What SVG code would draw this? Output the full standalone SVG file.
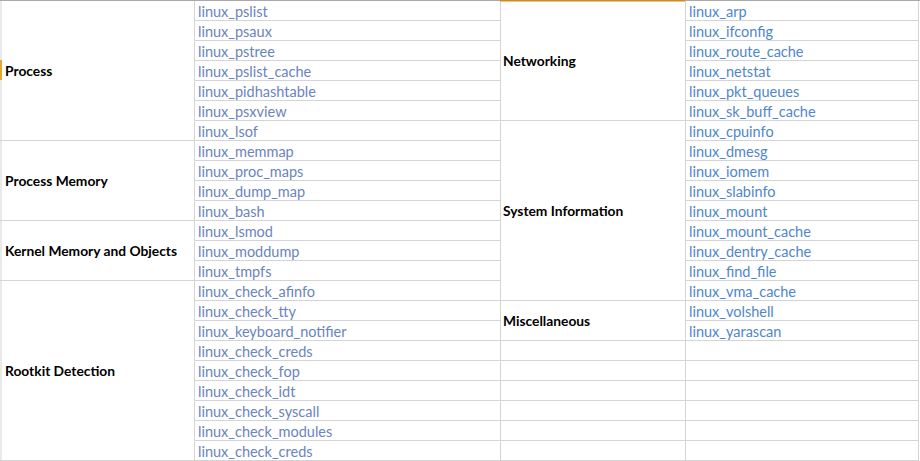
<svg xmlns="http://www.w3.org/2000/svg" width="920" height="461" viewBox="0 0 920 461">
<style>
.g{stroke:#d4d4d4;stroke-width:1;fill:none}
.h{font-family:Lato,"Liberation Sans",sans-serif;font-size:13.8px;font-weight:bold;fill:#000}
.a{font-family:Lato,"Liberation Sans",sans-serif;font-size:14.5px;fill:#6a84c0}
.b{font-family:Lato,"Liberation Sans",sans-serif;font-size:14.5px;fill:#4f86cc}
</style>
<rect width="920" height="461" fill="#fff"/>
<g id="grid">
<path class="g" d="M194.5 0V460.5M500.5 0V460.5M685.5 0V460.5M918.5 0V460.5M1 0V461"/>
<path class="g" d="M0 140.5H194M0 220.5H194M0 280.5H194M0 460.5H919"/>
<path class="g" d="M194 20.5H500M194 40.5H500M194 60.5H500M194 80.5H500M194 100.5H500M194 120.5H500M194 140.5H500M194 160.5H500M194 180.5H500M194 200.5H500M194 220.5H500M194 240.5H500M194 260.5H500M194 280.5H500M194 300.5H500M194 320.5H500M194 340.5H500M194 360.5H500M194 380.5H500M194 400.5H500M194 420.5H500M194 440.5H500"/>
<path class="g" d="M685 20.5H919M685 40.5H919M685 60.5H919M685 80.5H919M685 100.5H919M685 120.5H919M685 140.5H919M685 160.5H919M685 180.5H919M685 200.5H919M685 220.5H919M685 240.5H919M685 260.5H919M685 280.5H919M685 300.5H919M685 320.5H919M685 340.5H919M685 360.5H919M685 380.5H919M685 400.5H919M685 420.5H919M685 440.5H919"/>
<path class="g" d="M500 120.5H685M500 300.5H685M500 340.5H685M500 360.5H685M500 380.5H685M500 400.5H685M500 420.5H685M500 440.5H685"/>
<path d="M0 0.5H500M685 0.5H920" stroke="#a9a9a9" stroke-width="1"/>
<path d="M500 0.75H685" stroke="#d08a1e" stroke-width="1.5"/>
<path d="M1 60V80" stroke="#e3a832" stroke-width="2"/>
</g>
<g id="categories">
<text class="h" x="5" y="76">Process</text>
<text class="h" x="5" y="186">Process Memory</text>
<text class="h" x="5" y="256">Kernel Memory and Objects</text>
<text class="h" x="5" y="376">Rootkit Detection</text>
<text class="h" x="503" y="66">Networking</text>
<text class="h" x="503" y="216">System Information</text>
<text class="h" x="503" y="326">Miscellaneous</text>
</g>
<g id="plugins-left">
<text class="a" x="198" y="17">linux_pslist</text>
<text class="a" x="198" y="37">linux_psaux</text>
<text class="a" x="198" y="57">linux_pstree</text>
<text class="a" x="198" y="77">linux_pslist_cache</text>
<text class="a" x="198" y="97">linux_pidhashtable</text>
<text class="a" x="198" y="117">linux_psxview</text>
<text class="a" x="198" y="137">linux_lsof</text>
<text class="a" x="198" y="157">linux_memmap</text>
<text class="a" x="198" y="177">linux_proc_maps</text>
<text class="a" x="198" y="197">linux_dump_map</text>
<text class="a" x="198" y="217">linux_bash</text>
<text class="a" x="198" y="237">linux_lsmod</text>
<text class="a" x="198" y="257">linux_moddump</text>
<text class="a" x="198" y="277">linux_tmpfs</text>
<text class="a" x="198" y="297">linux_check_afinfo</text>
<text class="a" x="198" y="317">linux_check_tty</text>
<text class="a" x="198" y="337">linux_keyboard_notifier</text>
<text class="a" x="198" y="357">linux_check_creds</text>
<text class="a" x="198" y="377">linux_check_fop</text>
<text class="a" x="198" y="397">linux_check_idt</text>
<text class="a" x="198" y="417">linux_check_syscall</text>
<text class="a" x="198" y="437">linux_check_modules</text>
<text class="a" x="198" y="457">linux_check_creds</text>
</g>
<g id="plugins-right">
<text class="b" x="689" y="17">linux_arp</text>
<text class="b" x="689" y="37">linux_ifconfig</text>
<text class="b" x="689" y="57">linux_route_cache</text>
<text class="b" x="689" y="77">linux_netstat</text>
<text class="b" x="689" y="97">linux_pkt_queues</text>
<text class="b" x="689" y="117">linux_sk_buff_cache</text>
<text class="b" x="689" y="137">linux_cpuinfo</text>
<text class="b" x="689" y="157">linux_dmesg</text>
<text class="b" x="689" y="177">linux_iomem</text>
<text class="b" x="689" y="197">linux_slabinfo</text>
<text class="b" x="689" y="217">linux_mount</text>
<text class="b" x="689" y="237">linux_mount_cache</text>
<text class="b" x="689" y="257">linux_dentry_cache</text>
<text class="b" x="689" y="277">linux_find_file</text>
<text class="b" x="689" y="297">linux_vma_cache</text>
<text class="b" x="689" y="317">linux_volshell</text>
<text class="b" x="689" y="337">linux_yarascan</text>
</g>
</svg>
